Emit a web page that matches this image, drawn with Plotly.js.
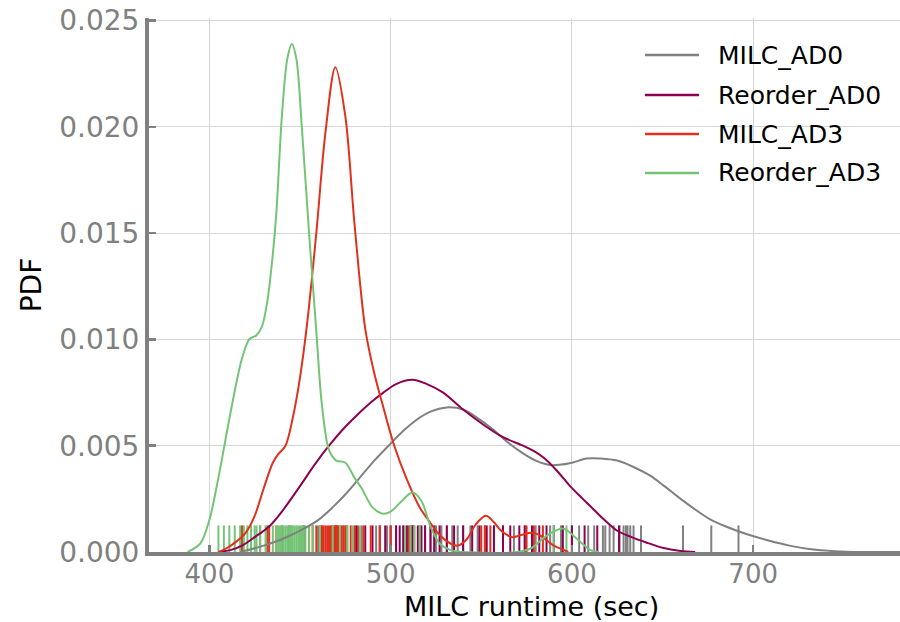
<!DOCTYPE html>
<html>
<head>
<meta charset="utf-8">
<script src="https://cdn.plot.ly/plotly-3.0.1.min.js"></script>
<style>
  html, body { margin: 0; padding: 0; background: #fff; }
  #chart { width: 900px; height: 622px; }
</style>
</head>
<body>
<div id="chart"></div>
<script>
// ---- Series names ----
const seriesNames = ['MILC_AD0', 'Reorder_AD0', 'MILC_AD3', 'Reorder_AD3'];

// ---- KDE curves ----
const milcAd0X = [417, 430, 440, 450, 460, 468, 476, 483, 491, 500, 507, 514, 522, 531, 540, 548, 556, 564, 572, 580, 587, 593, 600, 608, 616, 625, 634, 643, 651, 660, 668, 676, 685, 695, 708, 720, 732, 745, 760, 781];
const milcAd0Y = [0, 0.0003, 0.0006, 0.0010, 0.0015, 0.0021, 0.0028, 0.0035, 0.0043, 0.0051, 0.0057, 0.0062, 0.0066, 0.0068, 0.0067, 0.0063, 0.0058, 0.0052, 0.0047, 0.0043, 0.0041, 0.0041, 0.0042, 0.0044, 0.0044, 0.0043, 0.0040, 0.0036, 0.0031, 0.0025, 0.0020, 0.00155, 0.0012, 0.00088, 0.00055, 0.0003, 0.00013, 0.00004, 0, 0];

const reorderAd0X = [405, 412, 418, 425, 433, 440, 450, 458, 466, 474, 481, 490, 496, 503, 512, 520, 529, 540, 551, 562, 573, 580, 585, 592, 599, 606, 612, 618, 625, 633, 641, 650, 660, 668];
const reorderAd0Y = [0, 0.0001, 0.0003, 0.0007, 0.0012, 0.0019, 0.0031, 0.0041, 0.0050, 0.0058, 0.0064, 0.0071, 0.0075, 0.0079, 0.0081, 0.0079, 0.0075, 0.0067, 0.0060, 0.0054, 0.0050, 0.0047, 0.0044, 0.0038, 0.0031, 0.0025, 0.0020, 0.0015, 0.0010, 0.0007, 0.00045, 0.0002, 0.00005, 0];

const milcAd3X = [405, 410, 415, 420, 425, 430, 435, 438, 442, 446, 450, 454, 459, 464, 469.5, 475, 480, 486, 491, 496, 502, 509, 516, 520, 527, 533, 537, 542, 547, 552.5, 557, 561, 567, 572, 578, 582, 586, 590, 594, 598];
const milcAd3Y = [0, 0.0002, 0.0005, 0.0009, 0.0017, 0.0030, 0.0042, 0.0046, 0.0050, 0.0063, 0.0082, 0.0108, 0.0150, 0.0197, 0.0228, 0.0205, 0.0155, 0.0105, 0.0084, 0.0068, 0.0050, 0.0034, 0.0021, 0.0016, 0.0008, 0.0004, 0.0003, 0.0006, 0.0013, 0.0017, 0.0014, 0.0010, 0.0007, 0.0008, 0.0009, 0.0008, 0.00055, 0.0003, 0.00015, 0];

const reorderAd3X = [388, 395, 400, 405, 410, 415, 418, 422, 426, 429, 432, 435, 437, 440, 443, 445.5, 448, 451, 455, 459, 462, 466, 470, 475, 480, 484, 490, 496, 500, 505, 512, 517, 522, 527, 533, 540, 570, 578, 585, 595, 603, 610, 615];
const reorderAd3Y = [0, 0.0004, 0.0015, 0.0035, 0.0058, 0.0080, 0.0091, 0.0100, 0.0102, 0.0106, 0.0118, 0.0140, 0.0160, 0.0205, 0.0232, 0.0239, 0.0232, 0.0200, 0.0150, 0.0104, 0.0070, 0.0048, 0.0043, 0.0042, 0.0035, 0.0030, 0.0021, 0.0018, 0.0019, 0.0023, 0.0028, 0.0024, 0.0012, 0.0004, 0.0001, 0, 0, 0.0002, 0.0007, 0.0011, 0.0006, 0.0001, 0];

// ---- Rug samples ----
const milcAd0Rug = [460, 474, 484, 492, 498, 503, 507, 512, 516, 519, 522, 525, 528, 531, 534, 537, 540, 544, 548, 552, 557, 562, 568, 574, 580, 588, 594, 600, 604, 609, 612.3, 617.1, 618.4, 620.8, 623, 626.3, 628.5, 629.8, 630.7, 632.2, 634, 638.1, 661.3, 676.9, 691.9];
const reorderAd0Rug = [452, 462, 470, 476, 481, 486, 490, 494, 497, 500, 503, 505, 507, 509, 511, 512, 513, 515, 517, 519, 522, 524, 527, 531, 535, 540, 545, 549, 553, 557, 562, 566, 571, 574, 578, 582, 586, 590, 595, 600, 607, 614, 626];
const milcAd3Rug = [418, 428, 432, 433, 437, 440, 444, 452, 455, 457, 459, 461, 462, 463, 464, 465, 466, 467, 467.5, 468, 469, 469.5, 470, 470.5, 471, 472, 473, 474, 475, 476, 478, 480, 482, 485, 489, 494, 500, 510, 550, 552, 555, 575, 579, 584];
const reorderAd3Rug = [405, 408, 411, 414, 417, 419, 421, 423, 425, 426, 428, 431, 435, 437, 438, 439, 440, 441, 442, 443, 444, 444.5, 445, 445.5, 446, 447, 448, 449, 450, 451, 452, 453, 455, 457, 461, 468, 472, 476, 479, 483, 508, 511, 513, 516, 590, 597];

// ---- Axis ticks ----
const xTicks = [400, 500, 600, 700];
const yTicks = [0, 0.005, 0.010, 0.015, 0.020, 0.025];
const yTickText = ['0.000', '0.005', '0.010', '0.015', '0.020', '0.025'];

// ---- Styles ----
const colors = ['#808080', '#8e0152', '#e0301e', '#74c476'];
const FONT = 'DejaVu Sans, Verdana, sans-serif';
const RUG_H = 0.00125;

const curves = [
  [milcAd0X, milcAd0Y],
  [reorderAd0X, reorderAd0Y],
  [milcAd3X, milcAd3Y],
  [reorderAd3X, reorderAd3Y]
];
const rugs = [milcAd0Rug, reorderAd0Rug, milcAd3Rug, reorderAd3Rug];

const traces = [];
rugs.forEach((r, i) => {
  const xs = [], ys = [];
  r.forEach(v => { xs.push(v, v, null); ys.push(0, RUG_H, null); });
  traces.push({
    x: xs, y: ys, type: 'scatter', mode: 'lines',
    line: { color: colors[i], width: 2 },
    showlegend: false, hoverinfo: 'skip'
  });
});
curves.forEach((c, i) => {
  traces.push({
    x: c[0], y: c[1], type: 'scatter', mode: 'lines',
    name: seriesNames[i],
    line: { color: colors[i], width: 2, shape: 'spline', smoothing: 0.9 },
    showlegend: false
  });
});

// manual legend + x-axis title
const shapes = [];
const annotations = [];
const legendRowY = [55, 95, 134, 173]; // px from top
const plotTop = 18, plotH = 534, plotLeft = 149, plotW = 751;
seriesNames.forEach((n, i) => {
  const yp = 1 - (legendRowY[i] - plotTop) / plotH;
  shapes.push({
    type: 'line', xref: 'paper', yref: 'paper',
    x0: (645 - plotLeft) / plotW, x1: (699 - plotLeft) / plotW, y0: yp, y1: yp,
    line: { color: colors[i], width: 2.5 }
  });
  annotations.push({
    xref: 'paper', yref: 'paper', x: (716 - plotLeft) / plotW, y: yp,
    xanchor: 'left', yanchor: 'middle', showarrow: false, text: n,
    font: { family: FONT, size: 25, color: '#000' }
  });
});
annotations.push({
  xref: 'paper', yref: 'paper', x: (531 - plotLeft) / plotW, y: -(606 - (plotTop + plotH)) / plotH,
  xanchor: 'center', yanchor: 'middle', showarrow: false, text: 'MILC runtime (sec)',
  borderpad: 0, font: { family: FONT, size: 27, color: '#000' }
});

const layout = {
  width: 900, height: 622,
  margin: { l: plotLeft, r: 0, t: plotTop, b: 70 },
  paper_bgcolor: '#fff', plot_bgcolor: '#fff',
  showlegend: false,
  font: { family: FONT },
  xaxis: {
    range: [366.7, 781], tickvals: xTicks, ticks: 'inside', ticklen: 7, tickwidth: 2.5,
    tickcolor: '#808080', showline: true, linewidth: 4, linecolor: '#808080',
    showgrid: true, gridcolor: '#d6d6d6', gridwidth: 1, zeroline: false,
    tickfont: { family: FONT, size: 26, color: '#808080' },
    ticklabelstandoff: -4,
    automargin: false
  },
  yaxis: {
    range: [0, 0.02512], tickvals: yTicks, ticktext: yTickText, ticks: 'inside', ticklen: 7, tickwidth: 2.5,
    tickcolor: '#808080', showline: true, linewidth: 4, linecolor: '#808080',
    showgrid: true, gridcolor: '#d6d6d6', gridwidth: 1, zeroline: false,
    tickfont: { family: FONT, size: 28, color: '#808080' },
    title: { text: 'PDF', font: { family: FONT, size: 28, color: '#000' }, standoff: 10 },
    automargin: false
  },
  shapes: shapes,
  annotations: annotations
};

Plotly.newPlot('chart', traces, layout, { staticPlot: true, displayModeBar: false });
</script>
</body>
</html>
